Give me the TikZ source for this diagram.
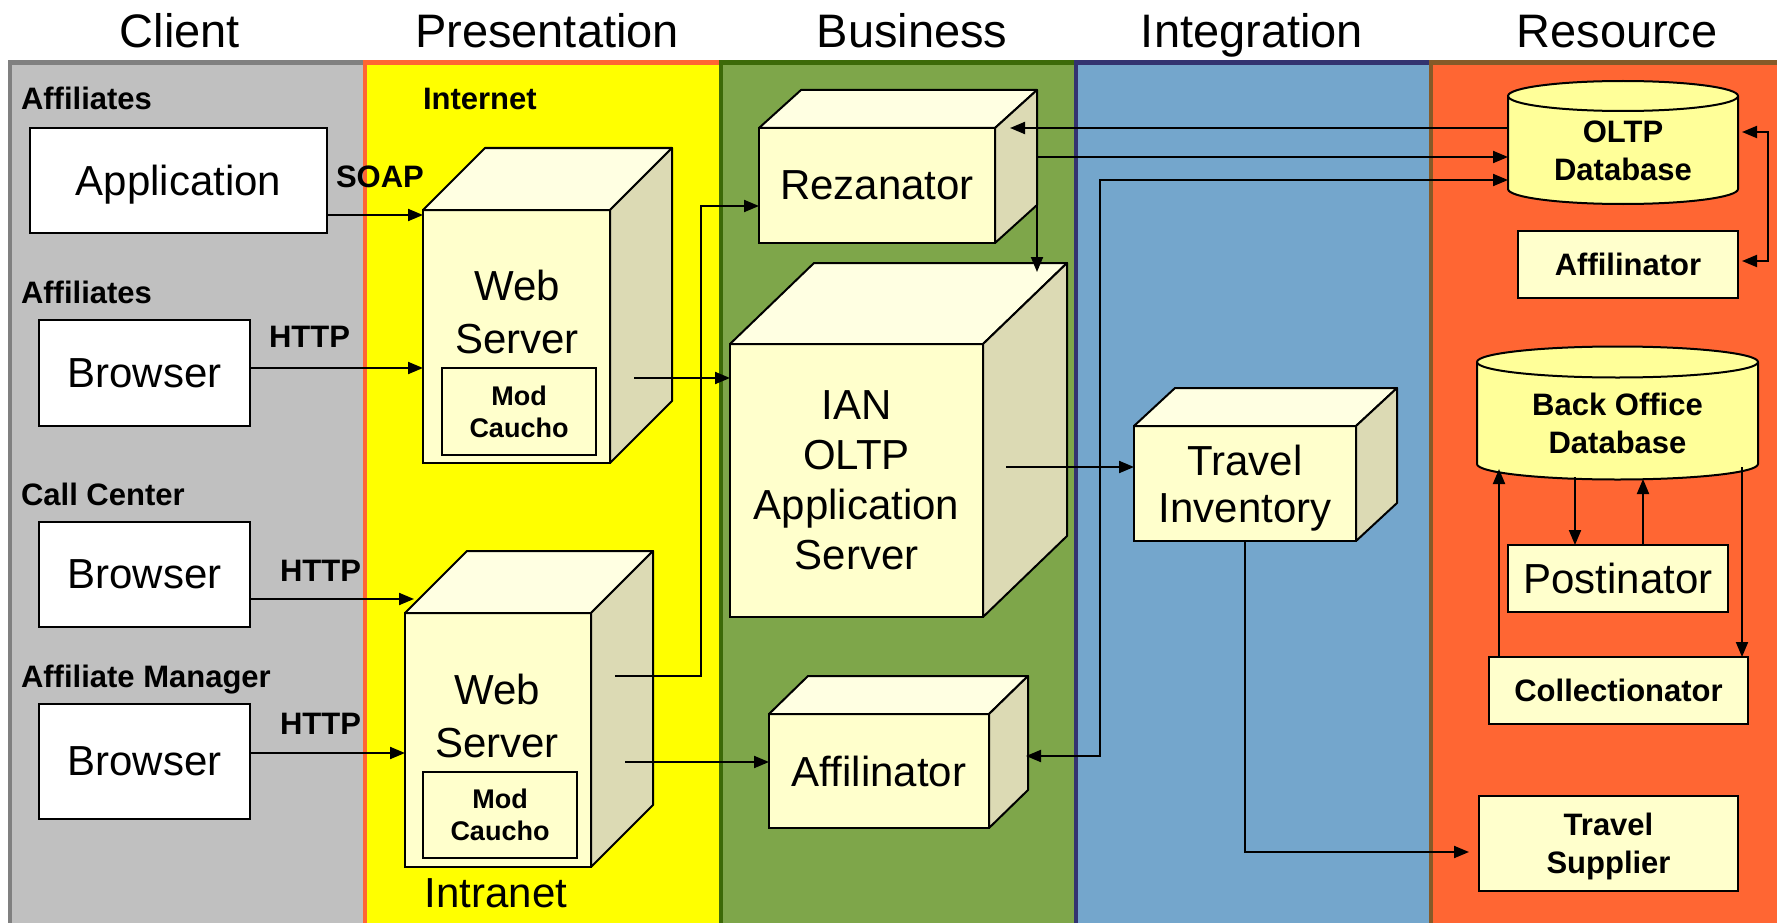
\documentclass[tikz,border=0pt]{standalone}
\usepackage{fontspec}
\setmainfont{Liberation Sans}
\usetikzlibrary{arrows.meta,calc}

\definecolor{clientgray}{HTML}{C0C0C0}
\definecolor{clientedge}{HTML}{808080}
\definecolor{presyellow}{HTML}{FFFF00}
\definecolor{presedge}{HTML}{FF6633}
\definecolor{busgreen}{HTML}{7EA64A}
\definecolor{busedge}{HTML}{3C6A08}
\definecolor{intblue}{HTML}{74A6CC}
\definecolor{intedge}{HTML}{333370}
\definecolor{resorange}{HTML}{FF6633}
\definecolor{resedge}{HTML}{855A28}
\definecolor{cubefront}{HTML}{FFFFCC}
\definecolor{cubetop}{HTML}{FFFFE2}
\definecolor{cubeside}{HTML}{DCDAB4}
\definecolor{dbyellow}{HTML}{FFFF99}

\newcommand{\titletxt}{\fontsize{47}{56}\selectfont}
\newcommand{\bigtxt}{\fontsize{42}{50}\selectfont}
\newcommand{\boldtxt}{\fontsize{31}{38}\selectfont\bfseries}
\newcommand{\modtxt}{\fontsize{27}{32}\selectfont\bfseries}

% top and side of a box, drawn from its front node
\newcommand{\cubeface}[3]{%
  \draw[topside, fill=cubetop] (#1.north west) -- ++(#2,-#3) -- ($(#1.north east)+(#2,-#3)$) -- (#1.north east) -- cycle;
  \draw[topside, fill=cubeside] (#1.north east) -- ($(#1.north east)+(#2,-#3)$) -- ($(#1.south east)+(#2,-#3)$) -- (#1.south east) -- cycle;
}
% database drum round a body node
\newcommand{\drum}[3]{%
  \draw[topside, fill=dbyellow] (#1.north west) -- (#1.south west) arc[start angle=180, end angle=360, x radius=#2pt, y radius=#3pt] -- (#1.north east) arc[start angle=0, end angle=180, x radius=#2pt, y radius=#3pt] -- cycle;
  \draw[topside] (#1.north west) arc[start angle=180, end angle=360, x radius=#2pt, y radius=#3pt];
}

\begin{document}
\begin{tikzpicture}[
    x=1pt, y=-1pt,
    lane/.style={line width=4.5pt},
    topside/.style={draw, line width=2pt, line join=round},
    plain/.style={draw, line width=2pt, inner sep=0pt, outer sep=0pt, align=center, text depth=0pt},
    client/.style={plain, fill=white, font=\bigtxt},
    front/.style={plain, fill=cubefront, font=\bigtxt},
    resbox/.style={plain, fill=cubefront, font=\boldtxt},
    modbox/.style={plain, fill=cubefront, font=\modtxt},
    dbbody/.style={inner sep=0pt, outer sep=0pt},
    lbl/.style={anchor=base west, font=\boldtxt},
    title/.style={anchor=base, font=\titletxt},
    arr/.style={-{Triangle[length=15pt,width=12pt]}, line width=2pt},
    darr/.style={{Triangle[length=15pt,width=12pt]}-{Triangle[length=15pt,width=12pt]}, line width=2pt},
]
    \path[use as bounding box, clip] (0,0) rectangle (1777,923);
    \fill[white] (0,0) rectangle (1777,923);

    % lanes
    \draw[lane, draw=clientedge, fill=clientgray] (10,62.5) rectangle (375,940);
    \draw[lane, draw=presedge, fill=presyellow] (365,62.5) rectangle (731,940);
    \draw[lane, draw=busedge, fill=busgreen] (721,62.5) rectangle (1086,940);
    \draw[lane, draw=intedge, fill=intblue] (1076,62.5) rectangle (1441,940);
    \draw[lane, draw=resedge, fill=resorange] (1431,62.5) rectangle (1800,940);

    \node[title] (tclient) at (180,47.5) {Client};
    \node[title] (tpres) at (547,47.5) {Presentation};
    \node[title] (tbus) at (912,47.5) {Business};
    \node[title] (tint) at (1252,47.5) {Integration};
    \node[title] (tres) at (1617,47.5) {Resource};

    % client
    \node[lbl] (affl1) at (17.5,110) {Affiliates};
    \node[client, minimum width=297pt, minimum height=105pt] (app) at (178.5,180.5) {Application};
    \node[lbl] (affl2) at (17.5,303) {Affiliates};
    \node[client, minimum width=211pt, minimum height=106pt] (br1) at (144.5,373) {Browser};
    \node[lbl] (calll) at (17.5,505) {Call Center};
    \node[client, minimum width=211pt, minimum height=105pt] (br2) at (144.5,574.5) {Browser};
    \node[lbl] (mgrl) at (17.5,687) {Affiliate Manager};
    \node[client, minimum width=211pt, minimum height=115pt] (br3) at (144.5,761.5) {Browser};

    \node[lbl] (soap) at (332.5,187) {SOAP};
    \node[lbl] (http1) at (265.5,347) {HTTP};
    \node[lbl] (http2) at (276.5,581) {HTTP};
    \node[lbl] (http3) at (276.5,734) {HTTP};

    % presentation
    \node[lbl] (inet) at (419.5,110) {Internet};
    \node[front, minimum width=187pt, minimum height=253pt] (ws1) at (516.5,336.5) {};
    \cubeface{ws1}{62}{62}
    \node[font=\fontsize{42}{53}\selectfont, align=center] (ws1txt) at (517,311.5) {Web\\Server};
    \node[modbox, minimum width=154pt, minimum height=87pt] (mc1) at (519,411.5) {Mod\\Caucho};

    \node[front, minimum width=186pt, minimum height=254pt] (ws2) at (498,740) {};
    \cubeface{ws2}{62}{62}
    \node[font=\fontsize{42}{53}\selectfont, align=center] (ws2txt) at (497,716) {Web\\Server};
    \node[modbox, minimum width=154pt, minimum height=86pt] (mc2) at (500,815) {Mod\\Caucho};
    \node[anchor=base, font=\bigtxt] (intra) at (496,907) {Intranet};

    % business
    \node[front, minimum width=236pt, minimum height=115pt] (rez) at (877,185.5) {Rezanator};
    \cubeface{rez}{42}{38}
    \node[front, minimum width=253pt, minimum height=273pt] (ian) at (856.5,480.5) {IAN\\OLTP\\Application\\Server};
    \cubeface{ian}{84}{81}
    \node[front, minimum width=220pt, minimum height=114pt] (aff) at (879,771) {Affilinator};
    \cubeface{aff}{39}{38}

    % integration
    \node[front, font=\fontsize{42}{47}\selectfont, minimum width=222pt, minimum height=115pt] (tinv) at (1245,483.5) {Travel\\Inventory};
    \cubeface{tinv}{41}{38}

    % resource
    \node[dbbody, minimum width=230pt, minimum height=93pt] (oltp) at (1623,142.5) {};
    \drum{oltp}{115}{15}
    \node[font=\boldtxt, align=center] (oltptxt) at (1623,151) {OLTP\\Database};
    \node[resbox, minimum width=220pt, minimum height=67pt] (raff) at (1628,264.5) {Affilinator};
    \node[dbbody, minimum width=281pt, minimum height=102pt] (bodb) at (1617.5,413) {};
    \drum{bodb}{140.5}{15.5}
    \node[font=\boldtxt, align=center] (bodbtxt) at (1617.5,423) {Back Office\\Database};
    \node[front, minimum width=220pt, minimum height=67pt] (post) at (1618,578.5) {Postinator};
    \node[resbox, minimum width=259pt, minimum height=67pt] (coll) at (1618.5,690.5) {Collectionator};
    \node[resbox, minimum width=259pt, minimum height=95pt] (tsup) at (1608.5,843.5) {Travel\\Supplier};

    % client to presentation
    \draw[arr] ($(app.south east)+(0,-18)$) coordinate (appout) -- (appout -| ws1.west);
    \draw[arr] ($(br1.east)+(0,-5)$) coordinate (br1out) -- (br1out -| ws1.west);
    \draw[arr] ($(br2.east)+(0,24.5)$) coordinate (br2out) -- ($(br2out -| ws2.west)+(9,0)$);
    \draw[arr] ($(br3.east)+(0,-8.5)$) coordinate (br3out) -- (br3out -| ws2.west);

    % presentation to business
    \draw[arr] ($(ws1.east)+(24,41.5)$) coordinate (ws1out) -- (ws1out -| ian.west);
    \draw[arr] ($(ws2.east)+(24,-64)$) -- ++(86,0) |- ($(rez.west)+(0,20.5)$);
    \draw[arr] ($(ws2.east)+(34,22)$) coordinate (ws2out) -- (ws2out -| aff.west);

    % business, integration, resource
    \draw[arr] (oltp.west |- rez.north east) -- ($(rez.north east)+(15,0)$);
    \draw[arr] ($(rez.east)+(42,-28.5)$) coordinate (rezout) -- (rezout -| oltp.west);
    \draw[arr] ($(rez.south east)+(42,-38)$) -- ($(ian.north east)+(54,-72)$);
    \draw[darr] ($(aff.east)+(37,-15)$) -- ++(74,0) |- ($(oltp.west)+(0,37.5)$);
    \draw[arr] ($(ian.east)+(23,-13.5)$) coordinate (ianout) -- (ianout -| tinv.west);
    \draw[arr] (tinv.south) |- ($(tsup.west)+(-10,8.5)$);

    \draw[darr] ($(oltp.east)+(4,-10.5)$) -- ++(26,0) |- ($(raff.east)+(4,-3.5)$);
    \draw[arr] ($(bodb.south)+(-42.5,13)$) -- ($(post.north)+(-43,0)$);
    \draw[arr] ($(post.north)+(25,0)$) -- ($(bodb.south)+(25.5,15)$);
    \draw[arr] ($(coll.north west)+(10,0)$) -- ($(bodb.south)+(-118.5,5)$);
    \draw[arr] ($(bodb.south)+(124.5,3)$) -- ($(coll.north east)+(-6,0)$);
\end{tikzpicture}
\end{document}
